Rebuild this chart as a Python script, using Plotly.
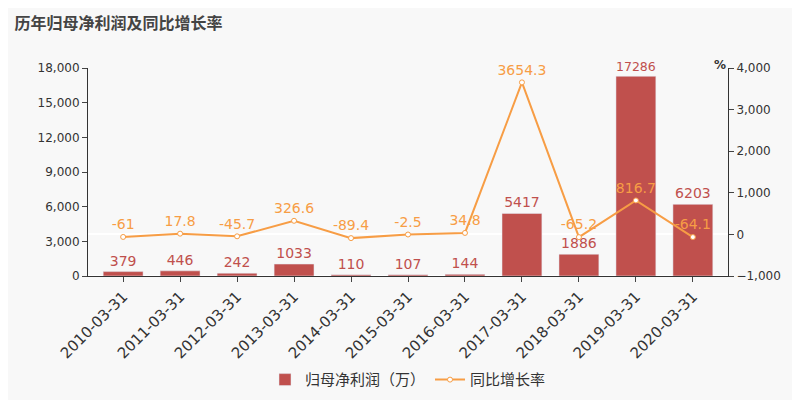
import plotly.graph_objects as go

dates = ["2010-03-31", "2011-03-31", "2012-03-31", "2013-03-31", "2014-03-31", "2015-03-31",
         "2016-03-31", "2017-03-31", "2018-03-31", "2019-03-31", "2020-03-31"]
profit = [379, 446, 242, 1033, 110, 107, 144, 5417, 1886, 17286, 6203]
growth = [-61, 17.8, -45.7, 326.6, -89.4, -2.5, 34.8, 3654.3, -65.2, 816.7, -64.1]

bar_color = "#c0504d"
line_color = "#f79d45"

fig = go.Figure()
fig.add_trace(go.Bar(
    x=dates, y=profit, name="归母净利润（万）", marker_color=bar_color, width=0.7,
    text=[str(v) for v in profit], textposition="outside",
    textfont=dict(color=bar_color, size=14), cliponaxis=False,
))
fig.add_trace(go.Scatter(
    x=dates, y=growth, name="同比增长率", yaxis="y2", mode="lines+markers+text",
    line=dict(color=line_color, width=2),
    marker=dict(size=5, color="white", line=dict(color=line_color, width=1)),
    text=[f"{v:g}" for v in growth], textposition="top center",
    textfont=dict(color=line_color, size=14), cliponaxis=False,
))

fig.update_layout(
    width=800, height=400,
    paper_bgcolor="#f8f8f8", plot_bgcolor="#f8f8f8",
    margin=dict(l=80, r=80, t=60, b=115),
    font=dict(family="DejaVu Sans, Noto Sans CJK SC", color="#333"),
    title=dict(text="<b>历年归母净利润及同比增长率</b>", x=0.008, y=0.975,
               font=dict(size=16, color="#444", family="Noto Sans CJK SC")),
    showlegend=True,
    legend=dict(orientation="h", x=0.5, xanchor="center", y=-0.42, yanchor="top",
                font=dict(size=15, family="Noto Sans CJK SC")),
    xaxis=dict(type="category", tickangle=-45, tickfont=dict(size=15), showline=True,
               linecolor="#333", ticks="outside"),
    yaxis=dict(range=[0, 18000], dtick=3000, tickformat=",", showgrid=False,
               showline=True, linecolor="#333", ticks="outside", tickfont=dict(size=12)),
    yaxis2=dict(range=[-1000, 4000], dtick=1000, tickformat=",", overlaying="y",
                side="right", showgrid=False, showline=True, linecolor="#333",
                ticks="outside", tickfont=dict(size=12)),
    annotations=[dict(text="<b>%</b>", xref="paper", yref="paper", x=1.0, y=1.06,
                      showarrow=False, font=dict(size=12))],
)

fig.write_html("out.html")
